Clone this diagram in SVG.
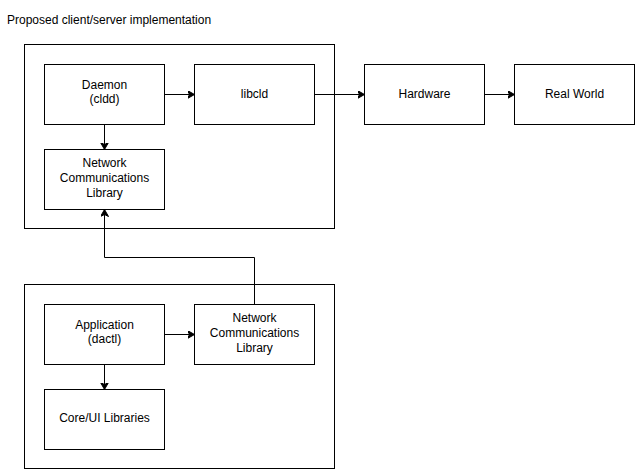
<svg xmlns="http://www.w3.org/2000/svg" width="636" height="474" viewBox="0 0 636 474">
<style>
  rect { fill: #ffffff; stroke: #000000; stroke-width: 1; }
  text { font-family: "Liberation Sans", Arial, sans-serif; font-size: 12px; fill: #000000; text-anchor: middle; }
  .title { text-anchor: start; }
  .conn path { fill: none; stroke: #000000; stroke-width: 1; }
</style>
<defs>
  <marker id="arr" markerWidth="10" markerHeight="10" refX="7" refY="4" orient="auto" markerUnits="userSpaceOnUse">
    <path d="M0,0 L7,4 L0,8 L2,4 Z" fill="#000000" stroke="#000000" stroke-width="1" stroke-linejoin="miter"/>
  </marker>
</defs>
<rect width="636" height="474" style="fill:#ffffff;stroke:none"/>
<text class="title" x="7" y="24">Proposed client/server implementation</text>

<g id="server-container"><rect x="24.5" y="44.5" width="310" height="184"/></g>
<g id="client-container"><rect x="24.5" y="284.5" width="310" height="184"/></g>

<g id="daemon"><rect x="44.5" y="64.5" width="120" height="60"/><text x="104.5" y="89">Daemon</text><text x="104.5" y="103">(cldd)</text></g>
<g id="libcld"><rect x="194.5" y="64.5" width="120" height="60"/><text x="254.5" y="98">libcld</text></g>
<g id="ncl-server"><rect x="44.5" y="149.5" width="120" height="60"/><text x="104.5" y="167">Network</text><text x="104.5" y="182">Communications</text><text x="104.5" y="197">Library</text></g>
<g id="hardware"><rect x="364.5" y="64.5" width="120" height="60"/><text x="424.5" y="98">Hardware</text></g>
<g id="real-world"><rect x="514.5" y="64.5" width="120" height="60"/><text x="574.5" y="98">Real World</text></g>

<g id="application"><rect x="44.5" y="304.5" width="120" height="60"/><text x="104.5" y="329">Application</text><text x="104.5" y="343">(dactl)</text></g>
<g id="ncl-client"><rect x="194.5" y="304.5" width="120" height="60"/><text x="254.5" y="322">Network</text><text x="254.5" y="337">Communications</text><text x="254.5" y="352">Library</text></g>
<g id="core-ui"><rect x="44.5" y="389.5" width="120" height="60"/><text x="104.5" y="422">Core/UI Libraries</text></g>

<g id="connectors" class="conn">
  <path d="M164.5,94.5 L194.5,94.5" marker-end="url(#arr)"/>
  <path d="M104.5,124.5 L104.5,149.5" marker-end="url(#arr)"/>
  <path d="M314.5,94.5 L364.5,94.5" marker-end="url(#arr)"/>
  <path d="M484.5,94.5 L514.5,94.5" marker-end="url(#arr)"/>
  <path d="M164.5,334.5 L194.5,334.5" marker-end="url(#arr)"/>
  <path d="M104.5,364.5 L104.5,389.5" marker-end="url(#arr)"/>
  <path d="M254.5,304.5 L254.5,257.5 L104.5,257.5 L104.5,209.5" marker-end="url(#arr)"/>
</g>
</svg>
